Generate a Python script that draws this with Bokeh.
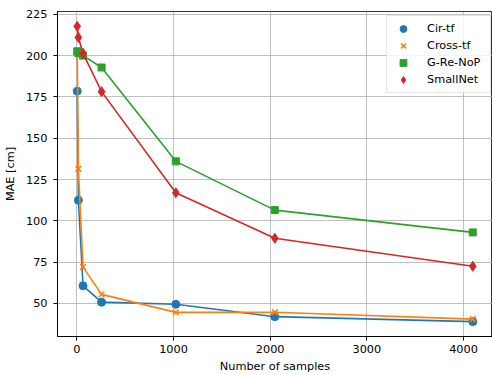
from bokeh.plotting import figure
from bokeh.models import Range1d, Legend, LegendItem, FixedTicker
from bokeh.embed import file_html
from bokeh.resources import INLINE

samples = [4, 16, 64, 256, 1024, 2048, 4096]
cir_tf = [178.5, 112.5, 60.7, 50.8, 49.5, 42.0, 39.0]
cross_tf = [203.0, 131.5, 72.0, 55.5, 44.6, 44.7, 40.5]
g_re_nop = [202.6, 201.5, 200.0, 192.8, 136.0, 106.5, 93.0]
smallnet = [217.7, 211.0, 201.4, 178.2, 117.0, 89.5, 72.5]

series = [
    ("Cir-tf", cir_tf, "#1f77b4", "circle", 8),
    ("Cross-tf", cross_tf, "#ff7f0e", "x", 8),
    ("G-Re-NoP", g_re_nop, "#2ca02c", "square", 7),
    ("SmallNet", smallnet, "#d62728", "diamond", 10),
]

FONT = "DejaVu Sans"
FS = "11.3px"

p = figure(width=492, height=375, output_backend="svg", toolbar_location=None,
           x_range=Range1d(-200, 4300), y_range=Range1d(30, 226.7),
           min_border_left=57, min_border_right=0, min_border_top=11,
           min_border_bottom=39)

items = []
for name, vals, color, marker, size in series:
    p.line(samples, vals, line_color=color, line_width=1.6)
    r = p.scatter(samples, vals, marker=marker, size=size, fill_color=color,
                  line_color=color, line_width=1.6 if marker == "x" else 1)
    items.append(LegendItem(label=name, renderers=[r]))

legend = Legend(items=items, location=(329, 243), margin=0,
                padding=4, spacing=0, glyph_width=24, glyph_height=17,
                label_height=17, label_width=59, label_standoff=12,
                label_text_font=FONT, label_text_font_size=FS,
                label_text_color="#000000",
                border_line_color="#cccccc", border_line_width=1,
                background_fill_color="white", background_fill_alpha=0.8)
p.add_layout(legend, "center")

p.xaxis.ticker = FixedTicker(ticks=[0, 1000, 2000, 3000, 4000])
p.yaxis.ticker = FixedTicker(ticks=[50, 75, 100, 125, 150, 175, 200, 225])

for ax in (p.xaxis[0], p.yaxis[0]):
    ax.major_label_text_font = FONT
    ax.major_label_text_font_size = FS
    ax.major_label_text_color = "#000000"
    ax.axis_label_text_font = FONT
    ax.axis_label_text_font_size = FS
    ax.axis_label_text_font_style = "normal"
    ax.axis_label_text_color = "#000000"
    ax.major_tick_out = 4
    ax.major_tick_in = 0
    ax.minor_tick_out = 0
    ax.minor_tick_in = 0
    ax.axis_line_color = "black"
    ax.major_tick_line_color = "black"

p.xaxis.axis_label = "Number of samples"
p.yaxis.axis_label = "MAE [cm]"
p.xaxis.major_label_standoff = 4
p.xaxis.axis_label_standoff = 4
p.yaxis.major_label_standoff = 6
p.yaxis.axis_label_standoff = 6

p.xgrid.grid_line_color = "#b0b0b0"
p.ygrid.grid_line_color = "#b0b0b0"
p.xgrid.grid_line_width = 0.8
p.ygrid.grid_line_width = 0.8

p.outline_line_color = "black"
p.outline_line_width = 0.8
p.outline_line_alpha = 1

open("out.html", "w").write(file_html(p, INLINE))
